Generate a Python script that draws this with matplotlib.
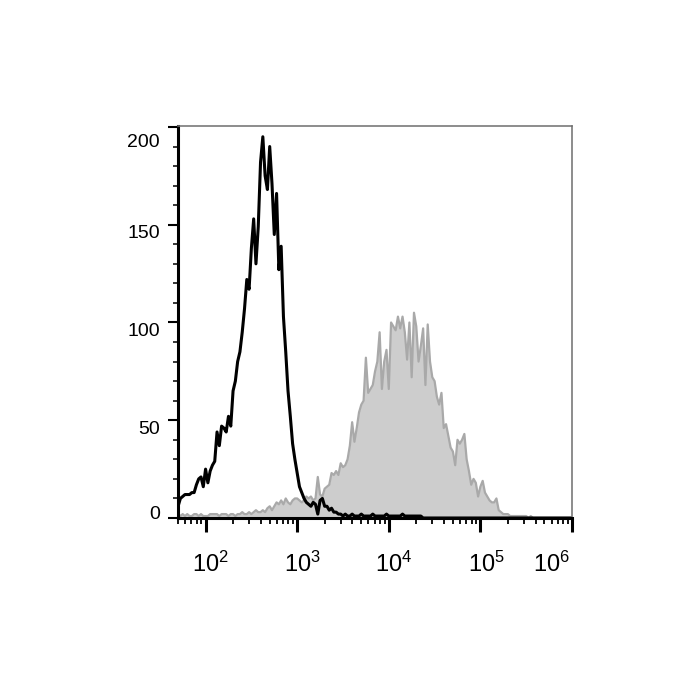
import numpy as np
import matplotlib
matplotlib.use("Agg")
import matplotlib.pyplot as plt
from matplotlib.ticker import LogLocator, NullFormatter, MultipleLocator
from matplotlib.transforms import ScaledTranslation

plt.rcParams['font.family'] = ['Liberation Sans', 'DejaVu Sans']
plt.rcParams['mathtext.default'] = 'regular'

# log-spaced channels from ~50 to 1e6 (0.025 decade steps)
log_start, log_stop = 1.70, 6.0

# unstained / isotype control (black outline)
control_counts = [
    6, 10, 11, 12, 12, 12, 13, 13, 17, 20,
    21, 16, 25, 18, 24, 27, 29, 44, 37, 47,
    46, 44, 52, 47, 65, 70, 80, 85, 95, 107,
    122, 117, 138, 153, 130, 149, 182, 195, 175, 168,
    190, 171, 145, 166, 127, 139, 103, 85, 65, 52,
    38, 30, 23, 16, 13, 10, 8, 7, 6, 8,
    7, 2, 9, 10, 6, 6, 4, 5, 3, 3,
    2, 2,
    1, 2, 1, 1, 2, 1, 1, 1, 2, 1,
    1, 1, 1, 2, 1, 1, 1, 1, 1, 2,
    1, 1, 1, 1, 1, 1, 2, 1, 1, 1,
    1, 1, 1, 1, 1,
] + [0] * 66

# stained sample (grey filled)
stained_counts = [
    2, 1, 2, 1, 2, 1, 1, 2, 2, 1,
    2, 1, 1, 1, 2, 2, 2, 2, 1, 2,
    2, 2, 1, 2, 2, 1, 2, 2, 3, 2,
    2, 3, 2, 3, 4, 3, 3, 4, 3, 5,
    6, 4, 6, 8, 7, 9, 7, 10, 8, 7,
    9, 10, 10, 9, 8, 9, 11, 10, 11, 9,
    10, 21, 12, 11, 15, 16, 17, 23, 22, 24,
    22, 28, 26, 27, 30, 37, 49, 39, 46, 54,
    58, 60, 82, 64, 66, 68, 75, 80, 95, 66,
    80, 86, 66, 100, 98, 96, 103, 97, 103, 95,
    81, 100, 72, 105, 98, 80, 88, 97, 68, 99,
    80, 72, 70, 62, 58, 64, 46, 48, 42, 36,
    34, 27, 40, 38, 40, 43, 30, 24, 17, 20,
    18, 11, 16, 19, 13, 11, 9, 8, 8, 10,
    4, 3, 2, 2, 2, 1, 1, 1, 1, 1,
    1,
    1, 1, 0, 1, 0, 0, 0, 0, 0, 0,
    0, 0, 0, 0, 0, 0, 0, 0, 0, 0, 0, 0,
]

x_ticks = [1e2, 1e3, 1e4, 1e5, 1e6]
x_ticklabels = ['$10^{2}$', '$10^{3}$', '$10^{4}$', '$10^{5}$', '$10^{6}$']
y_ticks = [0, 50, 100, 150, 200]

channels = np.logspace(log_start, log_stop, len(stained_counts))

fig = plt.figure(figsize=(7, 7), dpi=100)
ax = fig.add_axes([178 / 700, 1 - 518 / 700, 394 / 700, 392 / 700])

ax.fill_between(channels, stained_counts, 0, color='#cdcdcd', linewidth=0)
ax.plot(channels, stained_counts, color='#a9a9a9', linewidth=1.6)
ax.plot(channels, control_counts, color='black', linewidth=2.2)

ax.set_xscale('log')
ax.set_xlim(50, 1e6)
ax.set_ylim(0, 200.5)

ax.set_xticks(x_ticks)
ax.set_xticklabels(x_ticklabels, fontsize=17)
ax.xaxis.set_minor_locator(LogLocator(base=10, subs=np.arange(2, 10)))
ax.xaxis.set_minor_formatter(NullFormatter())
ax.set_yticks(y_ticks)
ax.set_yticklabels([str(v) for v in y_ticks], fontsize=14)
ax.yaxis.set_minor_locator(MultipleLocator(10))

ax.tick_params(axis='x', which='major', length=10, width=2.2, direction='out', pad=14)
ax.tick_params(axis='x', which='minor', length=4.3, width=1.3, direction='out')
ax.tick_params(axis='y', which='major', length=7.2, width=1.5, direction='out', pad=6)
ax.tick_params(axis='y', which='minor', length=3.6, width=1.1, direction='out')

for side in ['left', 'bottom']:
    ax.spines[side].set_linewidth(2.2)
    ax.spines[side].set_color('black')
for side in ['top', 'right']:
    ax.spines[side].set_linewidth(1.1)
    ax.spines[side].set_color('#6e6e6e')

# nudge tick labels to sit like the original export
y_shift_px = [5.5, -7, -7, -7, -13.5]
for lab, dy in zip(ax.get_yticklabels(), y_shift_px):
    lab.set_transform(lab.get_transform() + ScaledTranslation(0, dy / 100, fig.dpi_scale_trans))
x_shift_px = [5, 5, 5, 6, -2]
for i, (lab, dx) in enumerate(zip(ax.get_xticklabels(), x_shift_px)):
    if i == len(x_shift_px) - 1:
        lab.set_ha('right')
    lab.set_transform(lab.get_transform() + ScaledTranslation(dx / 100, 0, fig.dpi_scale_trans))

fig.savefig('out.png', dpi=100)
plt.close(fig)
